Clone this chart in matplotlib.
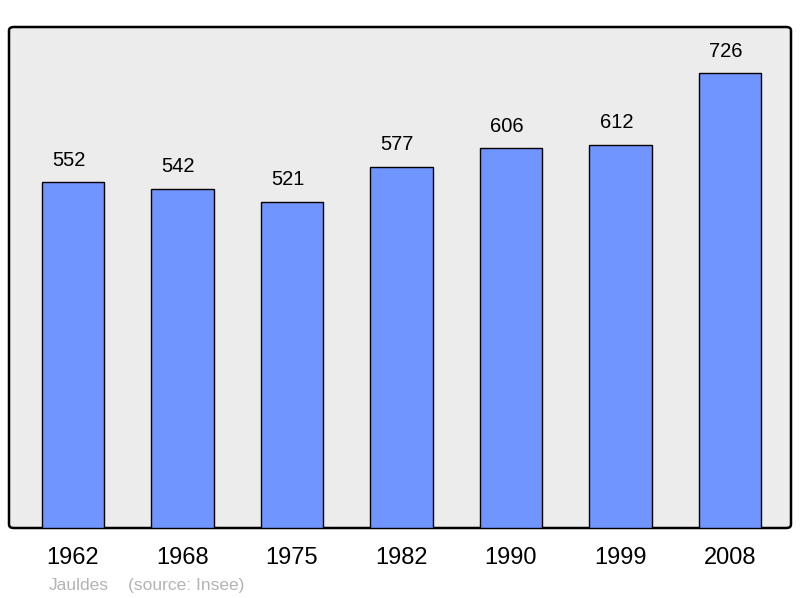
import numpy as np
import matplotlib.pyplot as plt
from matplotlib.patches import FancyBboxPatch
import matplotlib
matplotlib.use("Agg")

plt.rcParams['font.family'] = ['Liberation Sans', 'DejaVu Sans']

years = ["1962", "1968", "1975", "1982", "1990", "1999", "2008"]
population = [552, 542, 521, 577, 606, 612, 726]
commune = "Jauldes"
source = "(source: Insee)"

W, H = 800, 598
fig = plt.figure(figsize=(W / 100, H / 100), dpi=100)

# axes box in pixels: left 9, right 791, top 27, bottom 528
ax = fig.add_axes([9 / W, 1 - 528 / H, 782 / W, 501 / H])
ax.set_facecolor("none")

frame = FancyBboxPatch((9 / W, 1 - 528 / H), 782 / W, 501 / H,
                       boxstyle="round,pad=0,rounding_size=0.006",
                       transform=fig.transFigure, facecolor="#ececec",
                       edgecolor="black", linewidth=1.8, zorder=-5)
fig.patches.append(frame)

x = np.arange(len(years))
ax.bar(x, population, width=0.57, color="#7095ff", edgecolor="black",
       linewidth=1.0, zorder=2)
for xi, v in zip(x, population):
    ax.annotate(str(v), (xi, v), xytext=(-3, 9), textcoords="offset points",
                ha="center", va="bottom", fontsize=14.5, color="black")

ax.set_xlim(-0.584, 6.557)
ax.set_ylim(0, 800)
for s in ax.spines.values():
    s.set_visible(False)
ax.set_yticks([])
ax.set_xticks(x)
ax.set_xticklabels(years, fontsize=17)
ax.tick_params(axis="x", length=0, pad=14)

fig.text(49 / W, 1 - 590 / H, commune, fontsize=12.5, color="#b4b4b4",
         va="baseline", ha="left")
fig.text(128 / W, 1 - 590 / H, source, fontsize=12.5, color="#b4b4b4",
         va="baseline", ha="left")

fig.savefig("out.png", dpi=100)
